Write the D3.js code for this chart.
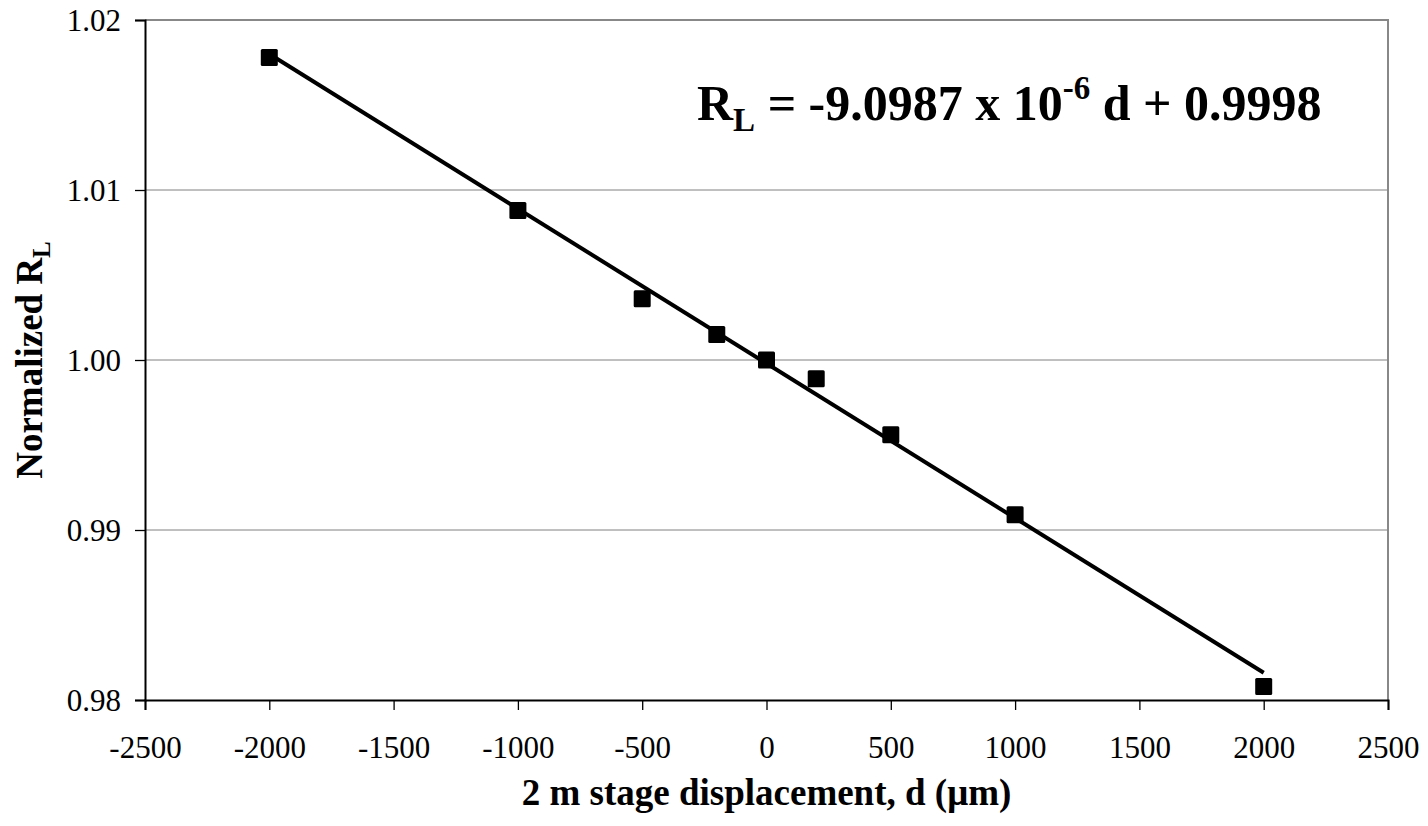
<!DOCTYPE html>
<html>
<head>
<meta charset="utf-8">
<script src="https://cdn.jsdelivr.net/npm/d3@7"></script>
<style>
  body { margin: 0; background: #fff; }
  text { font-family: "Liberation Serif", "Times New Roman", serif; }
</style>
</head>
<body>
<div id="chart"></div>
<script>
// data
var displacement = [-2000, -1000, -500, -200, 0, 200, 500, 1000, 2000];
var normalizedRL = [1.0178, 1.0088, 1.0036, 1.0015, 1.0000, 0.9989, 0.9956, 0.9909, 0.9808];
var fitSlope = -9.0987e-6, fitIntercept = 0.9998;
var fitRange = [-2000, 2000];
var xTicks = [-2500, -2000, -1500, -1000, -500, 0, 500, 1000, 1500, 2000, 2500];
var yTicks = [0.98, 0.99, 1.00, 1.01, 1.02];

var W = 1428, H = 826;
var margin = {top: 20, right: 40, bottom: 126, left: 145},
    width = W - margin.left - margin.right,
    height = H - margin.top - margin.bottom;

var svg = d3.select("#chart").append("svg")
    .attr("width", W).attr("height", H)
  .append("g")
    .attr("transform", "translate(" + margin.left + "," + margin.top + ")");

var x = d3.scaleLinear().domain([-2500, 2500]).range([0, width]);
var y = d3.scaleLinear().domain([0.98, 1.02]).range([height, 0]);

// gridlines
svg.selectAll(".grid")
  .data(yTicks.filter(function(d) { return d > 0.98 && d < 1.02; }))
  .enter().append("line")
    .attr("x1", 0).attr("x2", width)
    .attr("y1", function(d) { return y(d); })
    .attr("y2", function(d) { return y(d); })
    .attr("stroke", "#808080").attr("stroke-width", 1);

// top / right frame
svg.append("path")
  .attr("d", "M0,0H" + width + "V" + height)
  .attr("fill", "none").attr("stroke", "#888").attr("stroke-width", 2);

// axes (plain hyphen for negatives, like the original)
var xAxis = svg.append("g")
  .attr("transform", "translate(0," + height + ")")
  .call(d3.axisBottom(x).tickValues(xTicks).tickSize(10).tickPadding(26)
    .tickFormat(function(d) { return String(d); }));
var yAxis = svg.append("g")
  .call(d3.axisLeft(y).tickValues(yTicks).tickSize(10).tickPadding(14)
    .tickFormat(function(d) { return d.toFixed(2); }));

[xAxis, yAxis].forEach(function(a) {
  a.select(".domain").attr("stroke", "#000").attr("stroke-width", 2);
  a.selectAll(".tick line").attr("stroke", "#000").attr("stroke-width", 1.3);
  a.selectAll("text")
    .style("font-family", "'Liberation Serif', serif")
    .style("font-size", "31px").attr("fill", "#000");
});
yAxis.selectAll("text").attr("dy", "0.35em");

// fit line
var fitLine = d3.line()
  .x(function(d) { return x(d); })
  .y(function(d) { return y(fitSlope * d + fitIntercept); });
svg.append("path")
  .datum(fitRange)
  .attr("d", fitLine)
  .attr("fill", "none").attr("stroke", "#000").attr("stroke-width", 4);

// markers
var ms = 17;
svg.selectAll(".pt")
  .data(displacement)
  .enter().append("rect")
    .attr("x", function(d) { return x(d) - ms / 2; })
    .attr("y", function(d, i) { return y(normalizedRL[i]) - ms / 2; })
    .attr("width", ms).attr("height", ms)
    .attr("rx", 1.5)
    .attr("fill", "#000");

// equation
var eq = svg.append("text")
  .attr("x", 697 - margin.left).attr("y", 120 - margin.top)
  .style("font-size", "50px").style("font-weight", "bold");
eq.append("tspan").text("R");
eq.append("tspan").attr("dy", 11).style("font-size", "33px").text("L");
eq.append("tspan").attr("dy", -11).text(" = -9.0987 x 10");
eq.append("tspan").attr("dy", -21).style("font-size", "33px").text("-6");
eq.append("tspan").attr("dy", 21).text(" d + 0.9998");

// axis titles
svg.append("text")
  .attr("x", width / 2).attr("y", 805 - margin.top)
  .attr("text-anchor", "middle")
  .style("font-size", "37px").style("font-weight", "bold")
  .text("2 m stage displacement, d (\u03bcm)");

var yl = svg.append("text")
  .attr("transform", "translate(" + (42 - margin.left) + "," + (height / 2) + ") rotate(-90)")
  .attr("text-anchor", "middle")
  .style("font-size", "37px").style("font-weight", "bold");
yl.append("tspan").text("Normalized R");
yl.append("tspan").attr("dy", 8).style("font-size", "25px").text("L");
</script>
</body>
</html>
